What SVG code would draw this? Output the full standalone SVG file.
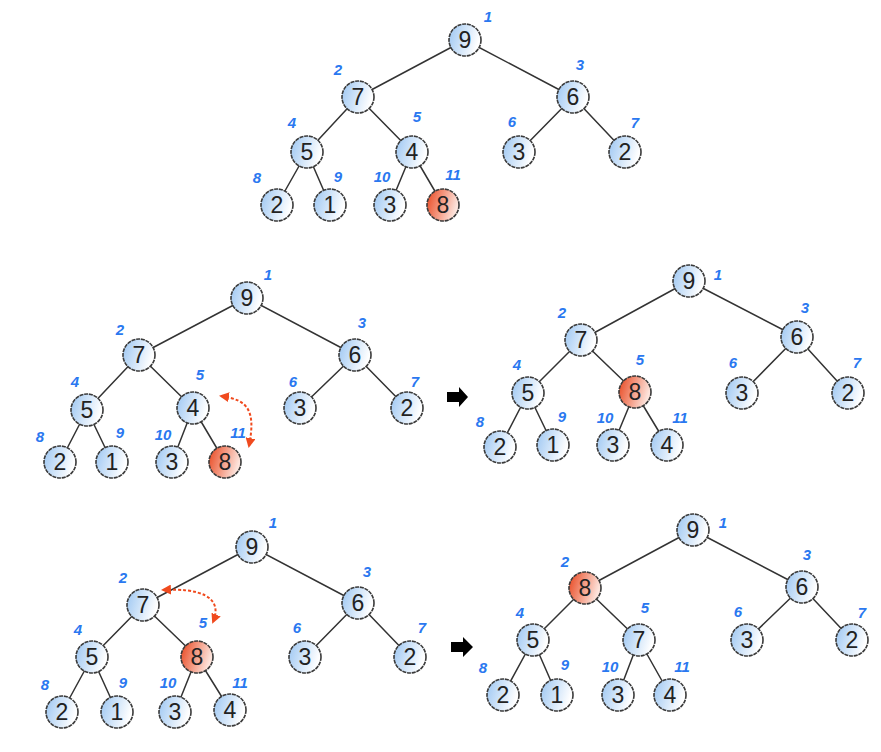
<svg xmlns="http://www.w3.org/2000/svg" width="881" height="752" viewBox="0 0 881 752">
<defs>
<linearGradient id="gb" x1="0" y1="0" x2="1" y2="0.3">
<stop offset="0" stop-color="#9cc6f2"/><stop offset="1" stop-color="#ffffff"/>
</linearGradient>
<linearGradient id="gr" x1="0" y1="0" x2="1" y2="0.3">
<stop offset="0" stop-color="#e8441c"/><stop offset="1" stop-color="#fde4dc"/>
</linearGradient>
<marker id="ah" viewBox="0 0 10 10" refX="8" refY="5" markerWidth="5" markerHeight="5" orient="auto-start-reverse" markerUnits="strokeWidth">
<path d="M0 0 L10 5 L0 10 z" fill="#f04a1e"/>
</marker>
<style>
.e{stroke:#333;stroke-width:1.5;fill:none}
.n circle{fill:url(#gb);stroke:#3a3a3a;stroke-width:1.6;stroke-dasharray:4 0.8}
.n.r circle{fill:url(#gr)}
.n text{font-family:"Liberation Sans",Arial,sans-serif;font-size:23px;fill:#222;text-anchor:middle}
.l{font-family:"Liberation Sans",Arial,sans-serif;font-size:15px;font-weight:bold;font-style:italic;fill:#2a78f0;text-anchor:middle}
.sw{stroke:#f04a1e;stroke-width:2;stroke-dasharray:3 2;fill:none;marker-start:url(#ah);marker-end:url(#ah)}
.ba{fill:#000}
</style>
</defs>
<rect width="881" height="752" fill="#fff"/>
<g id="connectors">
<path class="e" d="M465 40L358 97M465 40L573 97M358 97L307 152M358 97L412 152M573 97L519 152M573 97L625 152M307 152L277 205M307 152L330 205M412 152L390 205M412 152L443 205"/>
<path class="e" d="M247 298L139 355M247 298L355 355M139 355L87 410M139 355L193 408M355 355L300 408M355 355L407 408M87 410L60 462M87 410L112 462M193 408L172 462M193 408L225 462"/>
<path class="e" d="M689 281L581 340M689 281L797 337M581 340L528 393M581 340L635 392M797 337L742 393M797 337L848 393M528 393L500 447M528 393L553 445M635 392L613 445M635 392L667 445"/>
<path class="e" d="M252 547L143 605M252 547L358 603M143 605L92 657M143 605L197 657M358 603L305 657M358 603L410 657M92 657L62 712M92 657L117 712M197 657L175 712M197 657L230 710"/>
<path class="e" d="M693 530L585 588M693 530L802 587M585 588L533 640M585 588L639 640M802 587L747 640M802 587L852 640M533 640L503 695M533 640L557 695M639 640L618 695M639 640L670 695"/>
<path class="sw" d="M221 396 C248 400 256 410 249 446"/>
<path class="sw" d="M163 590 C198 588 224 596 213 622"/>
<path class="ba" d="M447 392h12v-5l9 10l-9 10v-5h-12z"/>
<path class="ba" d="M451 642h12v-5l10 10l-10 10v-5h-12z"/>
</g>
<g id="a1" class="n"><circle cx="465" cy="40" r="16"/><text x="465" y="48">9</text></g>
<g id="a2" class="n"><circle cx="358" cy="97" r="16"/><text x="358" y="105">7</text></g>
<g id="a3" class="n"><circle cx="573" cy="97" r="16"/><text x="573" y="105">6</text></g>
<g id="a4" class="n"><circle cx="307" cy="152" r="16"/><text x="307" y="160">5</text></g>
<g id="a5" class="n"><circle cx="412" cy="152" r="16"/><text x="412" y="160">4</text></g>
<g id="a6" class="n"><circle cx="519" cy="152" r="16"/><text x="519" y="160">3</text></g>
<g id="a7" class="n"><circle cx="625" cy="152" r="16"/><text x="625" y="160">2</text></g>
<g id="a8" class="n"><circle cx="277" cy="205" r="16"/><text x="277" y="213">2</text></g>
<g id="a9" class="n"><circle cx="330" cy="205" r="16"/><text x="330" y="213">1</text></g>
<g id="a10" class="n"><circle cx="390" cy="205" r="16"/><text x="390" y="213">3</text></g>
<g id="a11" class="n r"><circle cx="443" cy="205" r="16"/><text x="443" y="213">8</text></g>
<g id="a-labels">
<text class="l" x="488" y="22">1</text><text class="l" x="338" y="75">2</text><text class="l" x="580" y="70">3</text>
<text class="l" x="292" y="128">4</text><text class="l" x="417" y="122">5</text><text class="l" x="512" y="127">6</text>
<text class="l" x="635" y="128">7</text><text class="l" x="257" y="183">8</text><text class="l" x="338" y="182">9</text>
<text class="l" x="382" y="182">10</text><text class="l" x="453" y="180">11</text>
</g>
<g id="b1" class="n"><circle cx="247" cy="298" r="16"/><text x="247" y="306">9</text></g>
<g id="b2" class="n"><circle cx="139" cy="355" r="16"/><text x="139" y="363">7</text></g>
<g id="b3" class="n"><circle cx="355" cy="355" r="16"/><text x="355" y="363">6</text></g>
<g id="b4" class="n"><circle cx="87" cy="410" r="16"/><text x="87" y="418">5</text></g>
<g id="b5" class="n"><circle cx="193" cy="408" r="16"/><text x="193" y="416">4</text></g>
<g id="b6" class="n"><circle cx="300" cy="408" r="16"/><text x="300" y="416">3</text></g>
<g id="b7" class="n"><circle cx="407" cy="408" r="16"/><text x="407" y="416">2</text></g>
<g id="b8" class="n"><circle cx="60" cy="462" r="16"/><text x="60" y="470">2</text></g>
<g id="b9" class="n"><circle cx="112" cy="462" r="16"/><text x="112" y="470">1</text></g>
<g id="b10" class="n"><circle cx="172" cy="462" r="16"/><text x="172" y="470">3</text></g>
<g id="b11" class="n r"><circle cx="225" cy="462" r="16"/><text x="225" y="470">8</text></g>
<g id="b-labels">
<text class="l" x="268" y="280">1</text><text class="l" x="120" y="335">2</text><text class="l" x="362" y="328">3</text>
<text class="l" x="75" y="387">4</text><text class="l" x="200" y="380">5</text><text class="l" x="293" y="387">6</text>
<text class="l" x="415" y="387">7</text><text class="l" x="40" y="442">8</text><text class="l" x="120" y="438">9</text>
<text class="l" x="163" y="440">10</text><text class="l" x="238" y="438">11</text>
</g>
<g id="c1" class="n"><circle cx="689" cy="281" r="16"/><text x="689" y="289">9</text></g>
<g id="c2" class="n"><circle cx="581" cy="340" r="16"/><text x="581" y="348">7</text></g>
<g id="c3" class="n"><circle cx="797" cy="337" r="16"/><text x="797" y="345">6</text></g>
<g id="c4" class="n"><circle cx="528" cy="393" r="16"/><text x="528" y="401">5</text></g>
<g id="c5" class="n r"><circle cx="635" cy="392" r="16"/><text x="635" y="400">8</text></g>
<g id="c6" class="n"><circle cx="742" cy="393" r="16"/><text x="742" y="401">3</text></g>
<g id="c7" class="n"><circle cx="848" cy="393" r="16"/><text x="848" y="401">2</text></g>
<g id="c8" class="n"><circle cx="500" cy="447" r="16"/><text x="500" y="455">2</text></g>
<g id="c9" class="n"><circle cx="553" cy="445" r="16"/><text x="553" y="453">1</text></g>
<g id="c10" class="n"><circle cx="613" cy="445" r="16"/><text x="613" y="453">3</text></g>
<g id="c11" class="n"><circle cx="667" cy="445" r="16"/><text x="667" y="453">4</text></g>
<g id="c-labels">
<text class="l" x="718" y="280">1</text><text class="l" x="562" y="318">2</text><text class="l" x="805" y="313">3</text>
<text class="l" x="517" y="370">4</text><text class="l" x="640" y="365">5</text><text class="l" x="733" y="368">6</text>
<text class="l" x="857" y="368">7</text><text class="l" x="480" y="427">8</text><text class="l" x="562" y="422">9</text>
<text class="l" x="605" y="423">10</text><text class="l" x="680" y="423">11</text>
</g>
<g id="d1" class="n"><circle cx="252" cy="547" r="16"/><text x="252" y="555">9</text></g>
<g id="d2" class="n"><circle cx="143" cy="605" r="16"/><text x="143" y="613">7</text></g>
<g id="d3" class="n"><circle cx="358" cy="603" r="16"/><text x="358" y="611">6</text></g>
<g id="d4" class="n"><circle cx="92" cy="657" r="16"/><text x="92" y="665">5</text></g>
<g id="d5" class="n r"><circle cx="197" cy="657" r="16"/><text x="197" y="665">8</text></g>
<g id="d6" class="n"><circle cx="305" cy="657" r="16"/><text x="305" y="665">3</text></g>
<g id="d7" class="n"><circle cx="410" cy="657" r="16"/><text x="410" y="665">2</text></g>
<g id="d8" class="n"><circle cx="62" cy="712" r="16"/><text x="62" y="720">2</text></g>
<g id="d9" class="n"><circle cx="117" cy="712" r="16"/><text x="117" y="720">1</text></g>
<g id="d10" class="n"><circle cx="175" cy="712" r="16"/><text x="175" y="720">3</text></g>
<g id="d11" class="n"><circle cx="230" cy="710" r="16"/><text x="230" y="718">4</text></g>
<g id="d-labels">
<text class="l" x="273" y="528">1</text><text class="l" x="123" y="583">2</text><text class="l" x="367" y="577">3</text>
<text class="l" x="78" y="635">4</text><text class="l" x="203" y="628">5</text><text class="l" x="297" y="633">6</text>
<text class="l" x="422" y="633">7</text><text class="l" x="45" y="690">8</text><text class="l" x="123" y="688">9</text>
<text class="l" x="168" y="688">10</text><text class="l" x="240" y="688">11</text>
</g>
<g id="e1" class="n"><circle cx="693" cy="530" r="16"/><text x="693" y="538">9</text></g>
<g id="e2" class="n r"><circle cx="585" cy="588" r="16"/><text x="585" y="596">8</text></g>
<g id="e3" class="n"><circle cx="802" cy="587" r="16"/><text x="802" y="595">6</text></g>
<g id="e4" class="n"><circle cx="533" cy="640" r="16"/><text x="533" y="648">5</text></g>
<g id="e5" class="n"><circle cx="639" cy="640" r="16"/><text x="639" y="648">7</text></g>
<g id="e6" class="n"><circle cx="747" cy="640" r="16"/><text x="747" y="648">3</text></g>
<g id="e7" class="n"><circle cx="852" cy="640" r="16"/><text x="852" y="648">2</text></g>
<g id="e8" class="n"><circle cx="503" cy="695" r="16"/><text x="503" y="703">2</text></g>
<g id="e9" class="n"><circle cx="557" cy="695" r="16"/><text x="557" y="703">1</text></g>
<g id="e10" class="n"><circle cx="618" cy="695" r="16"/><text x="618" y="703">3</text></g>
<g id="e11" class="n"><circle cx="670" cy="695" r="16"/><text x="670" y="703">4</text></g>
<g id="e-labels">
<text class="l" x="723" y="528">1</text><text class="l" x="565" y="567">2</text><text class="l" x="807" y="560">3</text>
<text class="l" x="520" y="618">4</text><text class="l" x="645" y="613">5</text><text class="l" x="738" y="617">6</text>
<text class="l" x="862" y="618">7</text><text class="l" x="483" y="673">8</text><text class="l" x="565" y="670">9</text>
<text class="l" x="610" y="672">10</text><text class="l" x="682" y="672">11</text>
</g>
</svg>
